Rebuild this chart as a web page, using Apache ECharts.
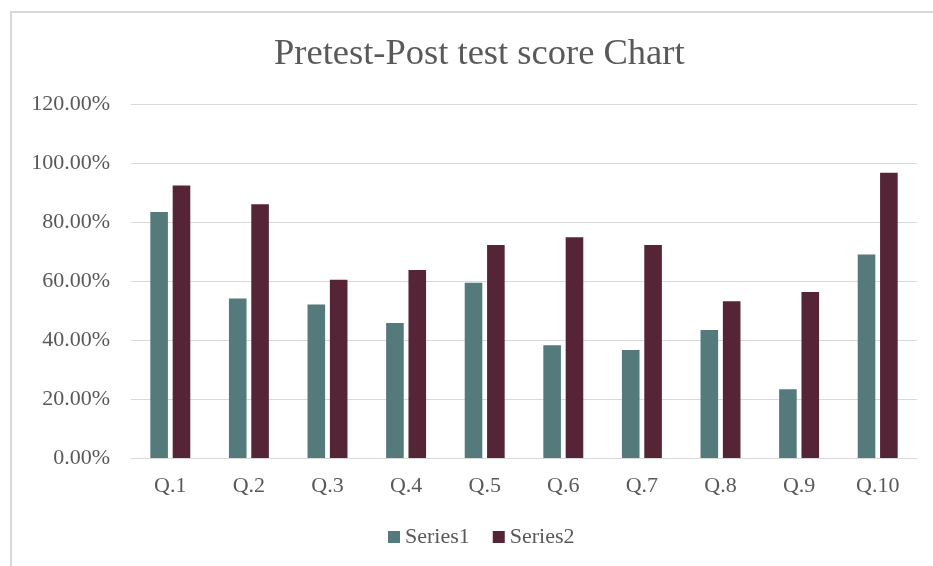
<!DOCTYPE html>
<html>
<head>
<meta charset="utf-8">
<script src="https://cdn.jsdelivr.net/npm/echarts@6/dist/echarts.min.js"></script>
<style>html,body{margin:0;padding:0;background:#fff}#c{width:933px;height:566px}</style>
</head>
<body>
<div id="c"></div>
<script>
var categories = ['Q.1','Q.2','Q.3','Q.4','Q.5','Q.6','Q.7','Q.8','Q.9','Q.10'];
var series1 = [0.834, 0.541, 0.520, 0.458, 0.594, 0.382, 0.366, 0.434, 0.233, 0.690];
var series2 = [0.924, 0.860, 0.604, 0.637, 0.722, 0.748, 0.722, 0.531, 0.563, 0.967];
var seriesNames = ['Series1', 'Series2'];

var font = '"Liberation Serif", "Times New Roman", serif';
var chart = echarts.init(document.getElementById('c'), null, {renderer: 'canvas'});
chart.setOption({
  animation: false,
  backgroundColor: '#ffffff',
  graphic: [{
    type: 'rect', silent: true,
    shape: {x: 11, y: 12, width: 940, height: 600},
    style: {fill: 'none', stroke: '#d9d9d9', lineWidth: 2}
  }],
  title: {
    text: 'Pretest-Post test score Chart',
    left: 269, top: 31,
    textStyle: {fontFamily: font, fontSize: 36.5, fontWeight: 'normal', color: '#595959'}
  },
  legend: {
    data: seriesNames,
    bottom: 13, left: 383,
    itemWidth: 12, itemHeight: 12, itemGap: 23,
    icon: 'rect',
    textStyle: {fontFamily: font, fontSize: 22, color: '#595959'}
  },
  grid: {left: 131, right: 16, top: 104, bottom: 108},
  xAxis: {
    type: 'category', data: categories,
    axisLine: {lineStyle: {color: '#d9d9d9', width: 1}},
    axisTick: {show: false},
    axisLabel: {fontFamily: font, fontSize: 22, color: '#595959', margin: 17}
  },
  yAxis: {
    type: 'value', min: 0, max: 1.2, interval: 0.2,
    axisLine: {show: false}, axisTick: {show: false},
    splitLine: {lineStyle: {color: '#d9d9d9', width: 1}},
    axisLabel: {
      fontFamily: font, fontSize: 22, color: '#595959', margin: 21,
      formatter: function (v) { return (v * 100).toFixed(2) + '%'; }
    }
  },
  series: [
    {name: seriesNames[0], type: 'bar', data: series1, barWidth: 17.6, barGap: '27%',
     itemStyle: {color: '#547a7b'}},
    {name: seriesNames[1], type: 'bar', data: series2, barWidth: 17.6, barGap: '27%',
     itemStyle: {color: '#552437'}}
  ]
});
</script>
</body>
</html>
